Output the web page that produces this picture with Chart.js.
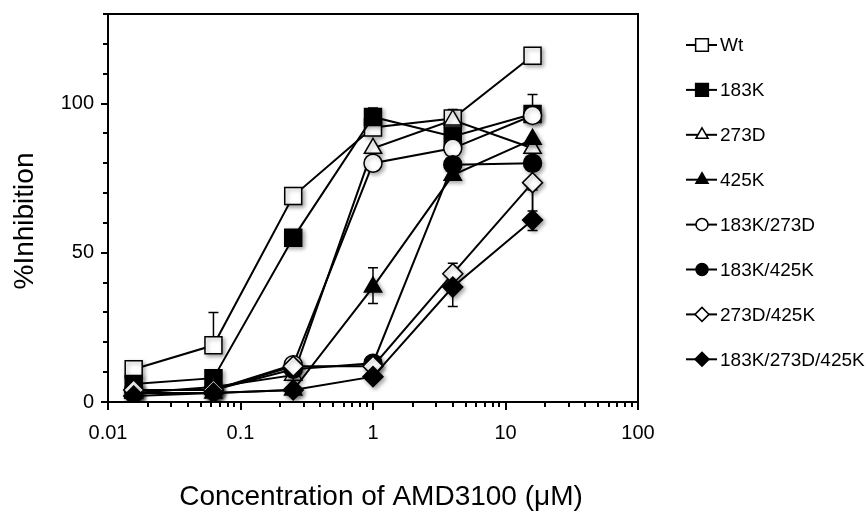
<!DOCTYPE html>
<html>
<head>
<meta charset="utf-8">
<script src="https://cdn.jsdelivr.net/npm/chart.js@4.4.0/dist/chart.umd.min.js"></script>
<style>
  body { margin: 0; background: #fff; }
  #wrap { width: 866px; height: 515px; }
</style>
</head>
<body>
<div id="wrap"><canvas id="myChart"></canvas></div>
<script>
// AMD3100 concentrations (uM), fourfold dilutions
var concentrations = [0.015625, 0.0625, 0.25, 1, 4, 16];
var seriesNames = ["Wt", "183K", "273D", "425K", "183K/273D", "183K/425K", "273D/425K", "183K/273D/425K"];

// % inhibition
var wt        = [11, 19, 69, 92, 95, 116];
var k183      = [6, 8, 55, 95.5, 89, 96.5];
var d273      = [3, 5, 9, 85, 94.5, 85];
var k425      = [3, 3, 4, 38.5, 76, 88];
var k183d273  = [4, 4, 12.5, 80, 85, 96];
var k183k425  = [4, 4, 11, 13, 79.5, 80];
var d273k425  = [4, 4, 12, 12, 43, 73.5];
var triple    = [2, 3, 4, 8.5, 38.5, 61];

// [series, point, minus, plus]
var errorBars = [
  [0, 1, 0, 11], [0, 4, 0, 3],
  [1, 3, 0, 3], [1, 5, 0, 6.5],
  [3, 3, 5.5, 6.5],
  [6, 4, 0, 3.5], [6, 5, 9.5, 0],
  [7, 4, 6.5, 0], [7, 5, 3.5, 10]
];

var xTickLabels = [0.01, 0.1, 1, 10, 100];
var yTickLabels = [0, 50, 100];
var yMinorTicks = [0, 10, 20, 30, 40, 50, 60, 70, 80, 90, 100, 110, 120, 130];

var allValues = [wt, k183, d273, k425, k183d273, k183k425, d273k425, triple];
var markerStyles = ["rect", "rect", "triangle", "triangle", "circle", "circle", "rectRot", "rectRot"];
var markerFills = ["#fff", "#000", "#fff", "#000", "#fff", "#000", "#fff", "#000"];
var markerSizes = [12, 12, 10, 10, 9, 9, 10, 10];
var legendSizes = [9, 9, 7, 7, 6, 6, 7, 7];

var FONT = "'Liberation Sans', Arial, Helvetica, sans-serif";

var datasets = [];
for (var i = 0; i < seriesNames.length; i++) {
  datasets.push({
    label: seriesNames[i],
    data: concentrations.map(function (c, j) { return { x: c, y: allValues[i][j] }; }),
    borderColor: "#000",
    borderWidth: 2,
    pointStyle: markerStyles[i],
    pointRadius: markerSizes[i],
    pointBackgroundColor: markerFills[i],
    pointBorderColor: "#000",
    pointBorderWidth: 1.5,
    tension: 0,
    order: -i
  });
}

// error bars, frame, ticks, titles, legend, marker shadows
var extras = {
  id: "extras",
  beforeDatasetsDraw: function (chart) {
    var ctx = chart.ctx, xs = chart.scales.x, ys = chart.scales.y;
    ctx.save();
    ctx.strokeStyle = "#000";
    ctx.lineWidth = 1.5;
    errorBars.forEach(function (e) {
      var v = allValues[e[0]][e[1]];
      var px = xs.getPixelForValue(concentrations[e[1]]);
      var lo = ys.getPixelForValue(v - e[2]);
      var hi = ys.getPixelForValue(v + e[3]);
      ctx.beginPath();
      ctx.moveTo(px, lo); ctx.lineTo(px, hi);
      if (e[2] > 0) { ctx.moveTo(px - 5, lo); ctx.lineTo(px + 5, lo); }
      if (e[3] > 0) { ctx.moveTo(px - 5, hi); ctx.lineTo(px + 5, hi); }
      ctx.stroke();
    });
    ctx.restore();
  },
  beforeDatasetDraw: function (chart, args) {
    var line = args.meta.dataset;
    if (line && !line._noShadow) {
      var orig = line.draw;
      line.draw = function (c, area) {
        c.save();
        c.shadowColor = "rgba(0,0,0,0)";
        orig.call(this, c, area);
        c.restore();
      };
      line._noShadow = true;
    }
    var ctx = chart.ctx;
    ctx.save();
    ctx.shadowColor = "rgba(0,0,0,0.35)";
    ctx.shadowBlur = 4;
    ctx.shadowOffsetX = 2;
    ctx.shadowOffsetY = 2;
  },
  afterDatasetDraw: function (chart) {
    chart.ctx.restore();
  },
  afterDraw: function (chart) {
    var ctx = chart.ctx, a = chart.chartArea, xs = chart.scales.x, ys = chart.scales.y;
    ctx.save();
    ctx.strokeStyle = "#000";
    ctx.lineWidth = 2;
    ctx.strokeRect(a.left, a.top, a.right - a.left, a.bottom - a.top);

    // x ticks, decades longer
    ctx.beginPath();
    for (var d = -2; d < 2; d++) {
      for (var m = 1; m <= 10; m++) {
        var px = Math.round(xs.getPixelForValue(m * Math.pow(10, d)));
        var len = (m === 1 || m === 10) ? 8 : 5;
        ctx.moveTo(px, a.bottom); ctx.lineTo(px, a.bottom + len);
      }
    }
    // y ticks
    yMinorTicks.forEach(function (t) {
      var py = Math.round(ys.getPixelForValue(t));
      var len = yTickLabels.indexOf(t) >= 0 ? 7 : 5;
      ctx.moveTo(a.left - len, py); ctx.lineTo(a.left, py);
    });
    ctx.stroke();

    // axis titles
    ctx.fillStyle = "#000";
    ctx.textAlign = "center";
    ctx.textBaseline = "middle";
    ctx.font = "28px " + FONT;
    ctx.fillText("Concentration of AMD3100 (\u03bcM)", 381, 497);
    ctx.save();
    ctx.translate(25, 221);
    ctx.rotate(-Math.PI / 2);
    ctx.font = "28px " + FONT;
    ctx.fillText("%Inhibition", 0, 0);
    ctx.restore();

    // legend
    ctx.font = "19px " + FONT;
    ctx.textAlign = "left";
    for (var i = 0; i < seriesNames.length; i++) {
      var ly = 45 + i * 44.9;
      ctx.beginPath();
      ctx.lineWidth = 2;
      ctx.moveTo(686, ly); ctx.lineTo(717, ly);
      ctx.stroke();
      ctx.fillStyle = markerFills[i];
      ctx.lineWidth = 1.5;
      Chart.helpers.drawPoint(ctx, { pointStyle: markerStyles[i], radius: legendSizes[i], borderWidth: 1.5 }, 702, ly);
      ctx.fillStyle = "#000";
      ctx.fillText(seriesNames[i], 720, ly + 1);
    }
    ctx.restore();
  }
};

var ctx = document.getElementById("myChart").getContext("2d");
var myChart = new Chart(ctx, {
  type: "line",
  data: { datasets: datasets },
  options: {
    responsive: true,
    maintainAspectRatio: false,
    animation: false,
    layout: { padding: { top: 14, right: 228, left: 0, bottom: 0 } },
    plugins: { legend: { display: false }, tooltip: { enabled: false } },
    scales: {
      x: {
        type: "logarithmic",
        min: 0.01,
        max: 100,
        afterBuildTicks: function (s) { s.ticks = xTickLabels.map(function (v) { return { value: v }; }); },
        afterFit: function (s) { s.height = 113; s.paddingLeft = 0; s.paddingRight = 0; },
        grid: { display: false, drawTicks: false },
        border: { display: false },
        ticks: {
          color: "#000",
          font: { family: FONT, size: 20 },
          padding: 19,
          maxRotation: 0,
          autoSkip: false,
          callback: function (v) { return String(v); }
        }
      },
      y: {
        type: "linear",
        min: 0,
        max: 130,
        afterBuildTicks: function (s) { s.ticks = yTickLabels.map(function (v) { return { value: v }; }); },
        afterFit: function (s) { s.width = 108; s.paddingTop = 0; s.paddingBottom = 0; },
        grid: { display: false, drawTicks: false },
        border: { display: false },
        ticks: {
          color: "#000",
          font: { family: FONT, size: 20 },
          padding: 14
        }
      }
    }
  },
  plugins: [extras]
});
</script>
</body>
</html>
